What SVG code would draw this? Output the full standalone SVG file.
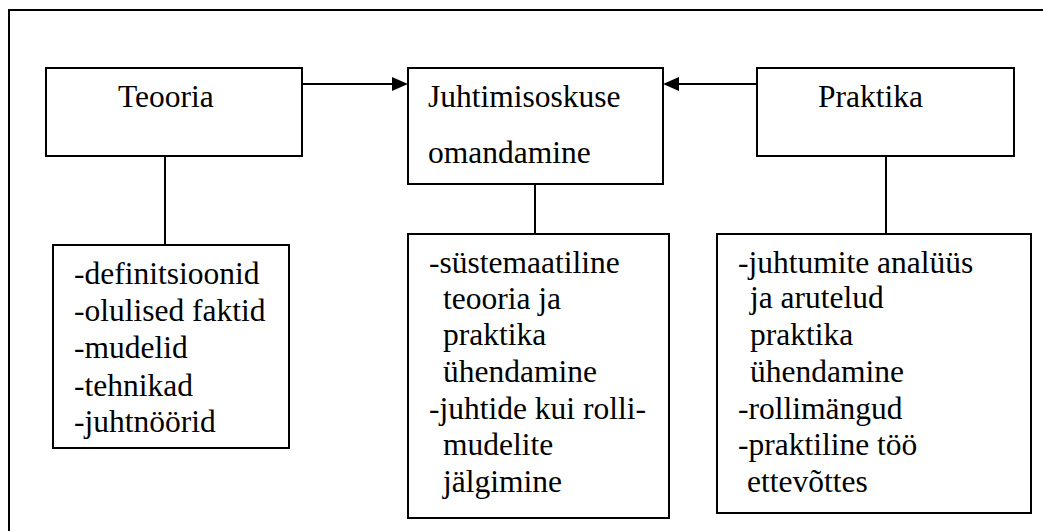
<svg xmlns="http://www.w3.org/2000/svg" width="1043" height="531" viewBox="0 0 1043 531">
<style>
.box{fill:#fff;stroke:#000;stroke-width:2}
.ln{stroke:#000;stroke-width:2;fill:none}
</style>
<rect width="1043" height="531" fill="#fff"/>
<rect x="9" y="10" width="1100" height="600" fill="none" stroke="#000" stroke-width="2"/>
<g id="connectors">
<line class="ln" x1="302" y1="84" x2="393" y2="84"/>
<polygon points="408,84 392,77 392,91" fill="#000"/>
<line class="ln" x1="757" y1="84" x2="677" y2="84"/>
<polygon points="663,84 679,77 679,91" fill="#000"/>
<line class="ln" x1="165" y1="156" x2="165" y2="245"/>
<line class="ln" x1="535" y1="184" x2="535" y2="234"/>
<line class="ln" x1="886" y1="156" x2="886" y2="234"/>
</g>
<g font-family="'Liberation Serif', serif" font-size="31.5" fill="#000">
<g id="teooria">
<rect class="box" x="46" y="68" width="256" height="88"/>
<text x="118" y="107">Teooria</text>
</g>
<g id="juhtimisoskuse">
<rect class="box" x="408" y="68" width="255" height="116"/>
<text x="428" y="107">Juhtimisoskuse</text>
<text x="428" y="163">omandamine</text>
</g>
<g id="praktika">
<rect class="box" x="757" y="68" width="257" height="88"/>
<text x="818" y="107">Praktika</text>
</g>
<g id="teooria-list">
<rect class="box" x="53" y="245" width="236" height="203"/>
<text x="74" y="284">-definitsioonid</text>
<text x="74" y="321">-olulised faktid</text>
<text x="74" y="358">-mudelid</text>
<text x="74" y="396">-tehnikad</text>
<text x="74" y="432">-juhtnöörid</text>
</g>
<g id="juhtimisoskuse-list">
<rect class="box" x="408" y="234" width="261" height="284"/>
<text x="429" y="273">-süstemaatiline</text>
<text x="443" y="309">teooria ja</text>
<text x="443" y="345">praktika</text>
<text x="443" y="382">ühendamine</text>
<text x="429" y="419">-juhtide kui rolli-</text>
<text x="443" y="455">mudelite</text>
<text x="443" y="492">jälgimine</text>
</g>
<g id="praktika-list">
<rect class="box" x="717" y="234" width="314" height="279"/>
<text x="738" y="273">-juhtumite analüüs</text>
<text x="750" y="308">ja arutelud</text>
<text x="750" y="345">praktika</text>
<text x="750" y="382">ühendamine</text>
<text x="738" y="419">-rollimängud</text>
<text x="738" y="455">-praktiline töö</text>
<text x="747" y="492">ettevõttes</text>
</g>
</g>
</svg>
